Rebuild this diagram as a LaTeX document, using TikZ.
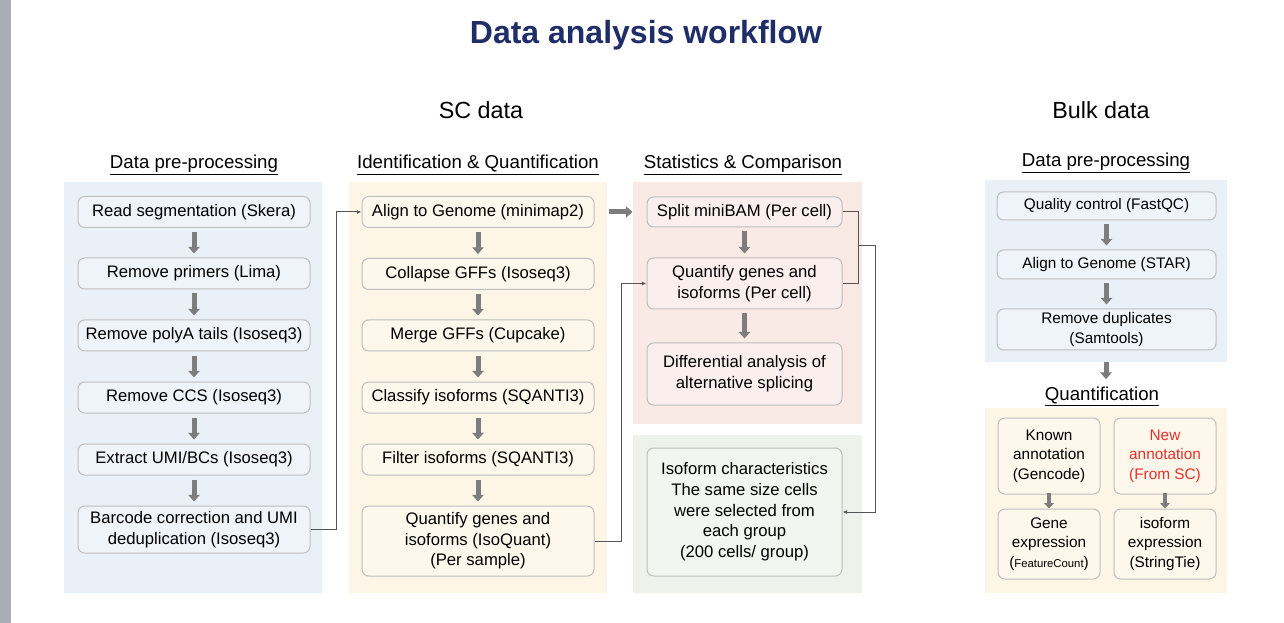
\documentclass[tikz,border=0pt]{standalone}
\usepackage{fontspec}
\setmainfont{Liberation Sans}
\usetikzlibrary{arrows.meta,positioning}

\definecolor{navy}{RGB}{31,45,104}
\definecolor{barGray}{RGB}{170,173,181}
\definecolor{preBlue}{RGB}{234,240,248}
\definecolor{idYellow}{RGB}{253,246,230}
\definecolor{statPink}{RGB}{249,234,230}
\definecolor{charGreen}{RGB}{239,242,235}
\definecolor{lineGray}{RGB}{190,190,190}
\definecolor{arrGray}{RGB}{125,125,125}
\definecolor{connGray}{RGB}{85,85,85}
\definecolor{newRed}{RGB}{232,48,42}

\tikzset{
  panel/.style={fill=#1, inner sep=0pt},
  procbox/.style={draw=lineGray, line width=0.75pt, rounded corners=5pt,
    fill=#1!75!white, align=center, inner sep=0pt,
    font=\fontsize{12.5}{15.5}\selectfont},
  bulkbox/.style={procbox=#1, font=\fontsize{11.5}{14.5}\selectfont},
  head/.style={anchor=base, font=\fontsize{14}{17}\selectfont},
  blockarr/.style={draw=arrGray, line width=3.75pt, -{Triangle[length=5pt,width=8.5pt]}},
  smallarr/.style={draw=arrGray, line width=3pt, -{Triangle[length=4pt,width=7pt]}},
  conn/.style={draw=connGray, line width=0.75pt, -{Latex[length=3.5pt,width=3pt]}},
  connline/.style={draw=connGray, line width=0.75pt}
}

\begin{document}
\begin{tikzpicture}[x=0.75pt,y=-0.75pt]
  \useasboundingbox (0,0) rectangle (1284,623);
  \fill[barGray] (0,0) rectangle (11,623);

  % panels
  \node[panel=preBlue, minimum width=193.5pt, minimum height=308.25pt] (prePanel) at (193,387.5) {};
  \node[panel=idYellow, minimum width=193.5pt, minimum height=308.25pt] (idPanel) at (478,387.5) {};
  \node[panel=statPink, minimum width=171.75pt, minimum height=181.5pt] (statPanel) at (747.5,303) {};
  \node[panel=charGreen, minimum width=171.75pt, minimum height=118.5pt] (charPanel) at (747.5,514) {};
  \node[panel=preBlue, minimum width=181.5pt, minimum height=136.5pt] (bulkPanel) at (1106,271) {};
  \node[panel=idYellow, minimum width=181.5pt, minimum height=138.75pt] (quantPanel) at (1106,500.5) {};

  % titles
  \node[anchor=base, font=\bfseries\fontsize{24}{28}\selectfont, text=navy] (title) at (646,44) {Data analysis workflow};
  \node[anchor=base, font=\fontsize{17.5}{20}\selectfont] (scTitle) at (481,119) {SC data};
  \node[anchor=base, font=\fontsize{17.5}{20}\selectfont] (bulkTitle) at (1101,119) {Bulk data};

  \node[head] (hPre) at (194,169) {\underline{Data pre-processing}};
  \node[head] (hIdent) at (478,169) {\underline{Identification \& Quantification}};
  \node[head] (hStat) at (743,169) {\underline{Statistics \& Comparison}};
  \node[head] (hBulkPre) at (1106,167) {\underline{Data pre-processing}};
  \node[head] (hQuant) at (1102,400) {\underline{Quantification}};

  % SC pre-processing
  \node[procbox=preBlue, minimum width=174pt, minimum height=23.25pt] (read) at (194,212) {Read segmentation (Skera)};
  \node[procbox=preBlue, minimum width=174pt, minimum height=23.25pt] (primers) at (194,273.5) {Remove primers (Lima)};
  \node[procbox=preBlue, minimum width=174pt, minimum height=23.25pt] (polyA) at (194,335.5) {Remove polyA tails (Isoseq3)};
  \node[procbox=preBlue, minimum width=174pt, minimum height=23.25pt] (ccs) at (194,397.5) {Remove CCS (Isoseq3)};
  \node[procbox=preBlue, minimum width=174pt, minimum height=23.25pt] (umi) at (194,459.5) {Extract UMI/BCs (Isoseq3)};
  \node[procbox=preBlue, minimum width=174pt, minimum height=35.25pt] (barcode) at (194,529.5) {Barcode correction and UMI\\deduplication (Isoseq3)};

  % identification
  \node[procbox=idYellow, minimum width=174pt, minimum height=23.25pt] (align) at (478,212) {Align to Genome (minimap2)};
  \node[procbox=idYellow, minimum width=174pt, minimum height=23.25pt] (collapse) at (478,274) {Collapse GFFs (Isoseq3)};
  \node[procbox=idYellow, minimum width=174pt, minimum height=23.25pt] (merge) at (478,335.5) {Merge GFFs (Cupcake)};
  \node[procbox=idYellow, minimum width=174pt, minimum height=23.25pt] (classify) at (478,397.5) {Classify isoforms (SQANTI3)};
  \node[procbox=idYellow, minimum width=174pt, minimum height=23.25pt] (filter) at (478,459.5) {Filter isoforms (SQANTI3)};
  \node[procbox=idYellow, minimum width=174pt, minimum height=52.5pt] (quantIso) at (478,541) {Quantify genes and\\isoforms (IsoQuant)\\(Per sample)};

  % statistics
  \node[procbox=statPink, minimum width=146.25pt, minimum height=22.5pt] (split) at (744.5,212) {Split miniBAM (Per cell)};
  \node[procbox=statPink, minimum width=146.25pt, minimum height=38.25pt] (quantCell) at (744.5,283.5) {Quantify genes and\\isoforms (Per cell)};
  \node[procbox=statPink, minimum width=146.25pt, minimum height=46.5pt] (diff) at (744.5,374) {Differential analysis of\\alternative splicing};
  \node[procbox=charGreen, minimum width=146.25pt, minimum height=96pt] (iso) at (744.5,512) {Isoform characteristics\\The same size cells\\were selected from\\each group\\(200 cells/ group)};

  % bulk
  \node[bulkbox=preBlue, minimum width=164.25pt, minimum height=21pt] (qc) at (1106.5,206) {Quality control (FastQC)};
  \node[bulkbox=preBlue, minimum width=164.25pt, minimum height=21.75pt] (star) at (1106.5,264.5) {Align to Genome (STAR)};
  \node[bulkbox=preBlue, minimum width=164.25pt, minimum height=30.75pt] (dup) at (1106.5,329.5) {Remove duplicates\\(Samtools)};
  \node[bulkbox=idYellow, minimum width=76.5pt, minimum height=57pt] (known) at (1049,456) {Known\\annotation\\(Gencode)};
  \node[bulkbox=idYellow, minimum width=76.5pt, minimum height=57pt, text=newRed] (newAnn) at (1165,456) {New\\annotation\\(From SC)};
  \node[bulkbox=idYellow, minimum width=76.5pt, minimum height=52.5pt] (gene) at (1049,544) {Gene\\expression\\({\fontsize{8.5}{10}\selectfont FeatureCount})};
  \node[bulkbox=idYellow, minimum width=76.5pt, minimum height=52.5pt] (isoExpr) at (1165,544) {isoform\\expression\\(StringTie)};

  % block arrows
  \foreach \a/\b in {read/primers, primers/polyA, polyA/ccs, ccs/umi, umi/barcode,
      align/collapse, collapse/merge, merge/classify, classify/filter, filter/quantIso,
      split/quantCell, quantCell/diff, qc/star, star/dup}
    \draw[blockarr] ([yshift=-3pt]\a.south) -- ([yshift=3pt]\b.north);
  \draw[blockarr] ([xshift=10.5pt]align.east) -- ([xshift=-10.5pt]split.west);
  \draw[blockarr] (bulkPanel.south) -- ([yshift=2pt]bulkPanel.south |- hQuant.north);
  \draw[smallarr] ([yshift=1pt]known.south) -- (gene.north);
  \draw[smallarr] ([yshift=1pt]newAnn.south) -- (isoExpr.north);

  % connectors
  \draw[conn] (barcode.east) -- ++(26,0) |- (align.west);
  \draw[conn] (quantIso.east) -- ++(27,0) |- (quantCell.west);
  \coordinate (joinStat) at (858,246);
  \draw[connline] (split.east) -| (joinStat) |- (quantCell.east);
  \draw[conn] (joinStat) -- ++(17,0) |- (iso.east);
\end{tikzpicture}
\end{document}
